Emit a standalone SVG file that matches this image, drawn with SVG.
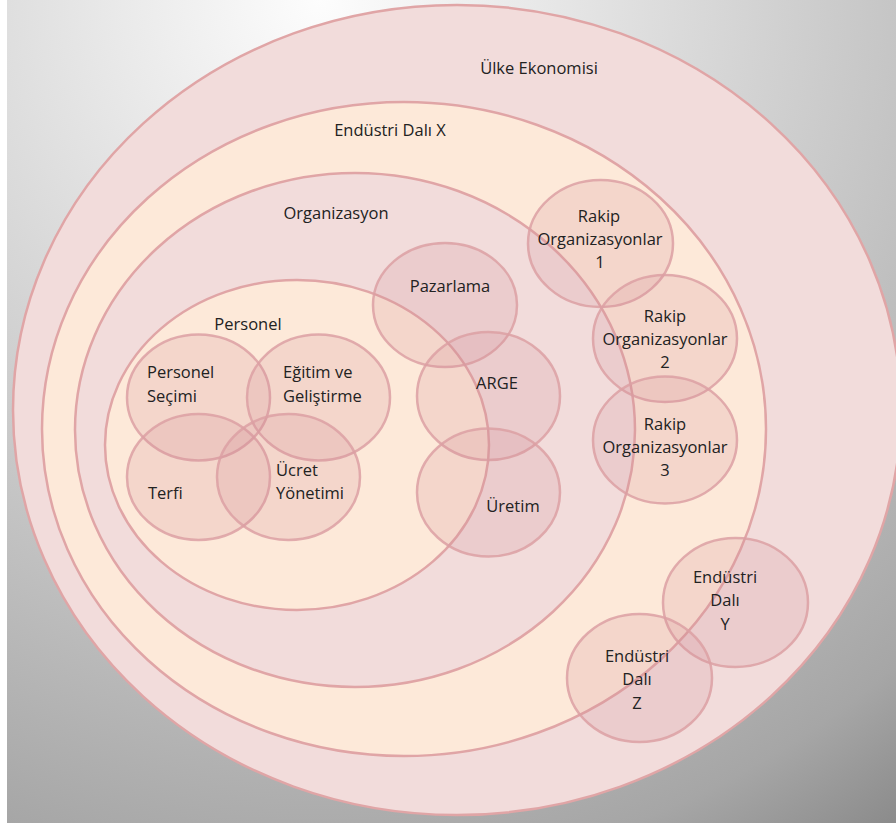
<svg xmlns="http://www.w3.org/2000/svg" width="896" height="827" viewBox="0 0 896 827">
<defs>
<radialGradient id="bg" gradientUnits="userSpaceOnUse" cx="320" cy="0" r="1000">
<stop offset="0" stop-color="#fdfdfd"/>
<stop offset="0.57" stop-color="#c6c6c6"/>
<stop offset="0.88" stop-color="#a6a6a6"/>
<stop offset="1" stop-color="#8c8c8c"/>
</radialGradient>
<style>
.big{stroke:#e0a5a6;stroke-width:2.5}
.pink{fill:#f2dcdb}
.cream{fill:#fde9d9}
.sm{fill:rgb(210,140,150);fill-opacity:0.2;stroke:rgb(220,160,163);stroke-opacity:0.85;stroke-width:2.5}
text{font-family:"Open Sans","Noto Sans","Liberation Sans",sans-serif;font-size:16.5px;fill:#222222}
.c{text-anchor:middle}
</style>
</defs>
<rect x="0" y="0" width="896" height="827" fill="#ffffff"/>
<rect x="7" y="0" width="889" height="823" fill="url(#bg)"/>
<g id="ulke-ekonomisi">
<ellipse class="big pink" cx="457" cy="410" rx="444" ry="405"/>
<text class="c" x="539" y="74">Ülke Ekonomisi</text>
</g>
<g id="endustri-dali-x">
<ellipse class="big cream" cx="404" cy="429" rx="362" ry="327"/>
<text class="c" x="390" y="136">Endüstri Dalı X</text>
</g>
<g id="organizasyon">
<ellipse class="big pink" cx="355" cy="430" rx="280" ry="257"/>
<text class="c" x="336" y="219">Organizasyon</text>
</g>
<g id="personel">
<ellipse class="big cream" cx="297" cy="445" rx="192" ry="165"/>
<text class="c" x="248" y="330">Personel</text>
</g>
<g id="personel-secimi">
<ellipse class="sm" cx="198.5" cy="397.5" rx="71.5" ry="63"/>
<text x="147" y="378">Personel</text>
<text x="147" y="402">Seçimi</text>
</g>
<g id="egitim-ve-gelistirme">
<ellipse class="sm" cx="318.5" cy="397.5" rx="71.5" ry="63"/>
<text x="283" y="378">Eğitim ve</text>
<text x="283" y="402">Geliştirme</text>
</g>
<g id="terfi">
<ellipse class="sm" cx="198.5" cy="477" rx="71.5" ry="63"/>
<text x="148" y="499">Terfi</text>
</g>
<g id="ucret-yonetimi">
<ellipse class="sm" cx="288.5" cy="477" rx="71.5" ry="63"/>
<text x="276" y="476">Ücret</text>
<text x="276" y="499">Yönetimi</text>
</g>
<g id="pazarlama">
<ellipse class="sm" cx="445" cy="305" rx="72" ry="62"/>
<text class="c" x="450" y="292">Pazarlama</text>
</g>
<g id="arge">
<ellipse class="sm" cx="488.5" cy="396" rx="71.5" ry="64"/>
<text class="c" x="497" y="389">ARGE</text>
</g>
<g id="uretim">
<ellipse class="sm" cx="488.5" cy="492.5" rx="71.5" ry="64"/>
<text class="c" x="513" y="512">Üretim</text>
</g>
<g id="rakip-1">
<ellipse class="sm" cx="600.5" cy="243.5" rx="72.5" ry="63.5"/>
<text class="c" x="599" y="222">Rakip</text>
<text class="c" x="600" y="245">Organizasyonlar</text>
<text class="c" x="600" y="268">1</text>
</g>
<g id="rakip-2">
<ellipse class="sm" cx="665" cy="338.5" rx="72" ry="63.5"/>
<text class="c" x="665" y="322">Rakip</text>
<text class="c" x="665" y="345">Organizasyonlar</text>
<text class="c" x="665" y="368">2</text>
</g>
<g id="rakip-3">
<ellipse class="sm" cx="665" cy="440" rx="72" ry="63.5"/>
<text class="c" x="665" y="430">Rakip</text>
<text class="c" x="665" y="453">Organizasyonlar</text>
<text class="c" x="665" y="476">3</text>
</g>
<g id="endustri-dali-y">
<ellipse class="sm" cx="735.5" cy="602.5" rx="72.5" ry="64.5"/>
<text class="c" x="725" y="583">Endüstri</text>
<text class="c" x="725" y="606">Dalı</text>
<text class="c" x="725" y="630">Y</text>
</g>
<g id="endustri-dali-z">
<ellipse class="sm" cx="639.5" cy="678" rx="72.5" ry="64"/>
<text class="c" x="637" y="662">Endüstri</text>
<text class="c" x="637" y="685">Dalı</text>
<text class="c" x="637" y="709">Z</text>
</g>
<g id="connectors"/>
</svg>
